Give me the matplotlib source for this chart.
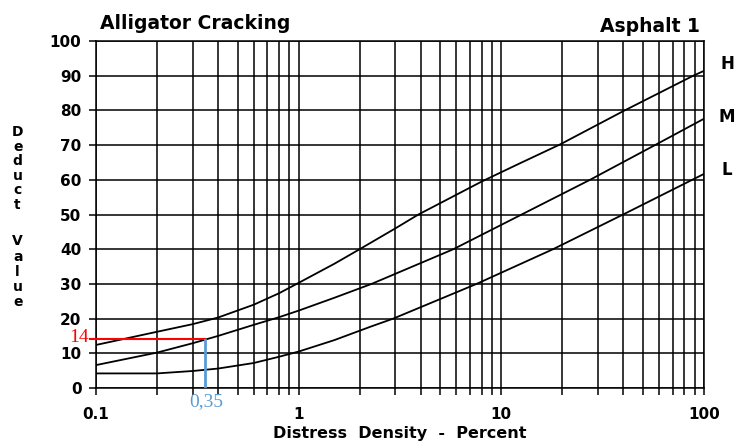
import matplotlib
matplotlib.use('Agg')
import matplotlib.pyplot as plt
from matplotlib.ticker import LogLocator, FixedLocator, NullFormatter, FixedFormatter

# Deduct value curves (density %, deduct value)
h_x = [0.1, 0.2, 0.3, 0.4, 0.6, 0.8, 1, 1.5, 2, 3, 3.9, 8, 12.4, 19.5, 40, 88.5, 100]
h_y = [12.4, 16.2, 18.4, 20.3, 24, 27.3, 30.3, 35.8, 40, 46, 50, 59.5, 64.8, 70.2, 79.8, 90, 91.4]
m_x = [0.1, 0.2, 0.3, 0.4, 0.6, 0.8, 1, 1.5, 2.29, 5.8, 12.6, 27.4, 57.3, 100]
m_y = [6.6, 10.2, 12.9, 15, 18.2, 20.4, 22.3, 26, 30, 40, 50, 60, 70, 77.6]
l_x = [0.1, 0.2, 0.3, 0.4, 0.6, 0.8, 1, 1.5, 2.27, 2.93, 7.55, 18, 39.9, 100]
l_y = [4.2, 4.2, 4.9, 5.6, 7.2, 9, 10.5, 13.8, 17.7, 20, 30, 40, 50, 61.7]
curve_labels = ['H', 'M', 'L']
label_y = [93.4, 78, 62.8]

# example reading
read_density = 0.345
read_value = 14

x_ticks = [0.1, 1, 10, 100]
x_ticklabels = ['0.1', '1', '10', '100']
y_ticks = list(range(0, 101, 10))

font = 'DejaVu Sans'
serif = 'Liberation Serif'
blue = '#5b9bd5'

fig = plt.figure(figsize=(7.35, 4.41), dpi=100)
ax = fig.add_axes([0.1306, 0.1202, 0.8272, 0.7868])

ax.set_xscale('log')
ax.set_xlim(0.1, 100)
ax.set_ylim(0, 100)

for xs, ys in [(h_x, h_y), (m_x, m_y), (l_x, l_y)]:
    ax.plot(xs, ys, color='black', lw=1.3, zorder=3)

ax.xaxis.set_major_locator(FixedLocator(x_ticks))
ax.xaxis.set_major_formatter(FixedFormatter(x_ticklabels))
ax.xaxis.set_minor_locator(LogLocator(base=10, subs=range(2, 10)))
ax.xaxis.set_minor_formatter(NullFormatter())
ax.set_yticks(y_ticks)

ax.grid(True, which='both', axis='x', color='black', lw=1.1)
ax.grid(True, which='major', axis='y', color='black', lw=1.1)
ax.tick_params(axis='x', which='both', length=5, width=1.1, direction='out', pad=9)
ax.tick_params(axis='y', length=5, width=1.1, pad=5.5)
for lab in ax.get_xticklabels() + ax.get_yticklabels():
    lab.set_fontfamily(font)
    lab.set_fontweight('bold')
    lab.set_fontsize(11)
for s in ax.spines.values():
    s.set_linewidth(1.1)

# annotation of the example reading
ax.plot([0.0935, read_density], [read_value, read_value], color='red', lw=1.5,
        zorder=4, clip_on=False)
ax.plot([read_density, read_density], [0, read_value - 0.3], color=blue,
        lw=2.0, zorder=4)
ax.text(0.0925, 14.6, str(read_value), color='red', family=serif,
        fontsize=14, ha='right', va='center')
ax.text(0.35, -3.9, '0,35', color=blue, family=serif,
        fontsize=14, ha='center', va='center', clip_on=False)

# curve labels on the right
for lab, yv in zip(curve_labels, label_y):
    ax.text(1.038, yv, lab, transform=ax.get_yaxis_transform(), fontsize=12,
            fontweight='bold', family=font, ha='center', va='center')

fig.text(0.136, 0.9335, 'Alligator Cracking', fontsize=13.5, fontweight='bold',
         family=font, ha='left', va='baseline')
fig.text(0.952, 0.928, 'Asphalt 1', fontsize=13.5, fontweight='bold',
         family=font, ha='right', va='baseline')
fig.text(0.544, 0.0068, 'Distress  Density  -  Percent', fontsize=11.5,
         fontweight='bold', family=font, ha='center', va='baseline')
fig.text(0.024, 0.618, 'D\ne\nd\nu\nc\nt', fontsize=10, fontweight='bold',
         family=font, ha='center', va='center', linespacing=1.05)
fig.text(0.024, 0.384, 'V\na\nl\nu\ne', fontsize=10, fontweight='bold',
         family=font, ha='center', va='center', linespacing=1.1)

fig.savefig('out.png', dpi=100)
